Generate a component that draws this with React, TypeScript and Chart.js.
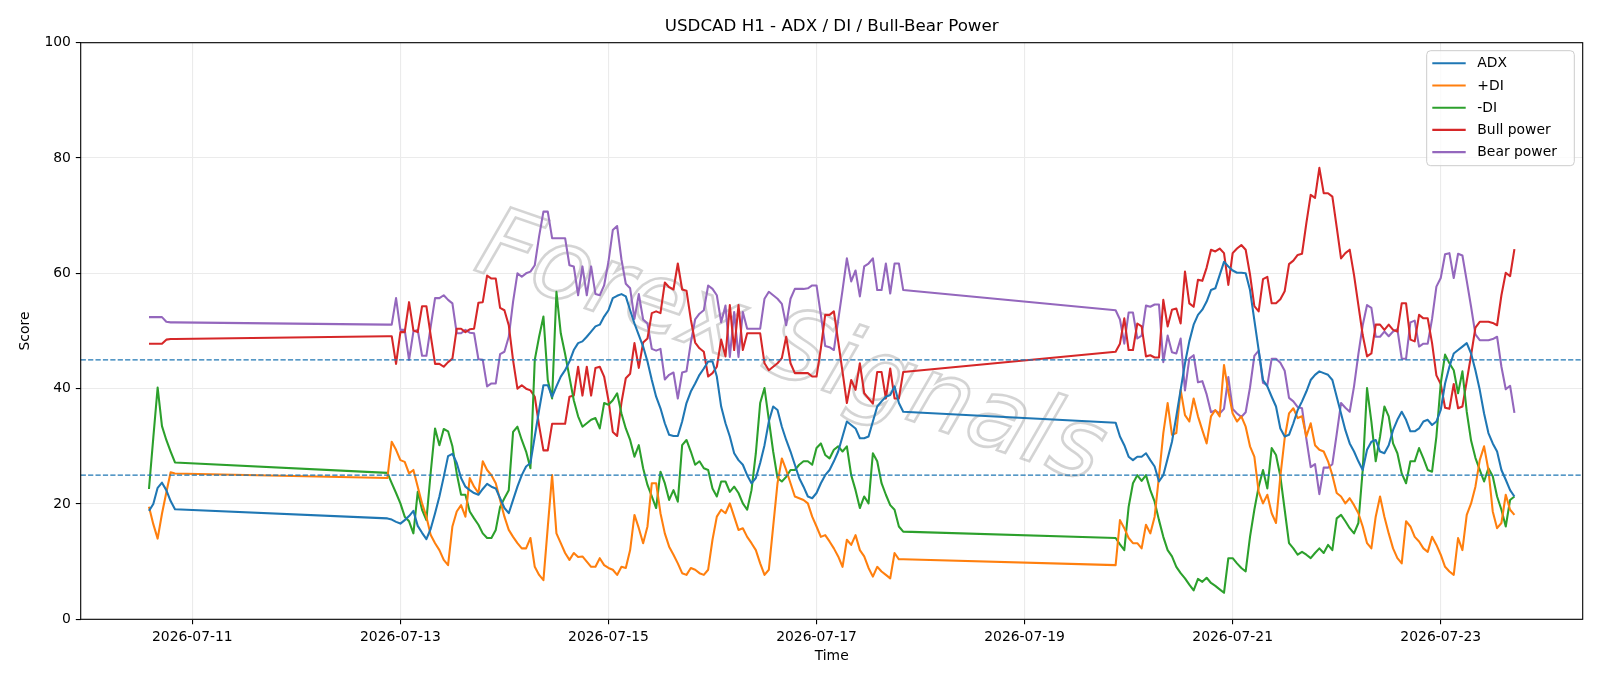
import React, { useEffect, useRef } from "react";
import { Chart, registerables } from "chart.js";

Chart.register(...registerables);

// Hours counted from 2026-07-10 00:00 (hourly bars, weekend gaps)
const SEGMENTS: [number, number][] = [
  [14, 20],
  [69, 188],
  [237, 329],
];
const HOURS: number[] = [];
for (const [a, b] of SEGMENTS) for (let h = a; h <= b; h++) HOURS.push(h);

const TICK_HOURS = [24, 72, 120, 168, 216, 264, 312];
const TICK_LABELS = ["2026-07-11", "2026-07-13", "2026-07-15", "2026-07-17", "2026-07-19", "2026-07-21", "2026-07-23"];
const Y_TICKS = [0, 20, 40, 60, 80, 100];
const THRESHOLDS = [45, 25];
const TITLE = "USDCAD H1 - ADX / DI / Bull-Bear Power";
const X_LABEL = "Time";
const Y_LABEL = "Score";
const WATERMARK = "Forex Signals";

const ADX = [
  18.8, 20.0, 22.8, 23.7, 22.4, 20.5, 19.1,
  17.5, 17.3, 16.9, 16.6, 17.2, 17.9, 18.8, 16.2, 15.0, 13.9, 15.7, 18.4, 21.3, 24.7, 28.3, 28.7, 27.1, 24.5, 23.0, 22.4, 21.9, 21.6, 22.6, 23.5,
  23.0, 22.7, 21.0, 19.3, 18.4, 20.7, 23.0, 25.0, 26.5, 27.1, 31.7, 36.3, 40.6, 40.6, 38.6, 40.4, 42.1, 43.2, 44.7, 46.7, 47.9, 48.2, 49.0, 49.9,
  50.8, 51.1, 52.5, 53.6, 55.7, 56.1, 56.4, 56.0, 53.6, 51.3, 49.3, 47.3, 44.7, 41.5, 38.6, 36.6, 34.0, 32.0, 31.8, 31.8, 34.3, 37.5, 39.5, 40.9, 42.4,
  43.5, 44.7, 44.7, 42.1, 36.9, 34.0, 31.7, 28.8, 27.6, 26.8, 25.0, 23.6, 24.5, 27.1, 30.2, 34.3, 36.9, 36.3, 33.4, 31.1, 29.1, 26.8, 24.5, 23.0,
  21.3, 21.0, 21.9, 23.6, 25.0, 25.9, 27.4, 29.1, 31.7, 34.3, 33.7, 33.1, 31.4, 31.4, 31.7, 34.3, 36.9, 37.8, 38.6, 38.9, 40.4, 37.5, 36.0,
  34.1, 31.7, 30.2, 28.2, 27.6, 28.2, 28.2, 28.8, 27.6, 26.5, 23.9, 25.0, 27.9, 30.8, 35.2, 39.8, 44.4, 48.2, 51.1, 52.8, 53.7, 55.1, 57.1,
  57.4, 59.7, 62.0, 61.2, 60.5, 60.1, 60.1, 60.0, 57.1, 51.9, 46.7, 41.5, 40.4, 38.6, 36.9, 33.1, 31.7, 32.0, 34.0, 36.3, 37.8, 39.5, 41.5, 42.4, 43.0,
  42.7, 42.4, 41.5, 38.6, 35.7, 32.8, 30.5, 29.1, 27.4, 25.9, 29.4, 30.8, 31.1, 29.1, 28.8, 30.2, 32.8, 34.6, 36.0, 34.6, 32.6, 32.6, 33.1, 34.3, 34.6, 33.7,
  34.3, 36.3, 40.9, 43.8, 46.1, 46.7, 47.3, 47.9, 46.1, 43.2, 39.8, 35.7, 32.3, 30.5, 29.1, 25.9, 24.2, 22.4, 21.3,
];

const PLUS_DI = [
  19.5, 16.5, 14.0, 18.3, 22.0, 25.5, 25.3,
  24.5, 30.8, 29.4, 27.6, 27.3, 25.3, 25.9, 23.0, 20.1, 17.8, 14.6, 13.2, 12.0, 10.3, 9.4, 16.1, 18.7, 19.8, 17.8, 24.5, 23.0, 21.9, 27.4, 25.9,
  25.0, 23.6, 20.7, 17.8, 15.5, 14.3, 13.2, 12.3, 12.3, 14.1, 9.1, 7.7, 6.8, 16.0, 25.0, 14.9, 13.2, 11.5, 10.3, 11.5, 10.8, 10.9, 10.0, 9.1,
  9.1, 10.6, 9.4, 8.9, 8.6, 7.7, 9.1, 8.9, 12.0, 18.1, 15.8, 13.2, 16.1, 23.6, 23.6, 18.4, 14.9, 12.6, 11.2, 9.7, 8.0, 7.7, 8.9, 8.6, 8.0,
  7.7, 8.6, 13.8, 17.8, 19.0, 18.4, 20.1, 17.8, 15.5, 15.8, 14.3, 13.2, 12.0, 9.7, 7.7, 8.6, 16.1, 23.6, 27.9, 25.9, 23.6, 21.3, 21.0, 20.7,
  20.1, 17.8, 16.1, 14.3, 14.6, 13.5, 12.3, 10.9, 9.1, 13.8, 12.9, 14.6, 12.0, 10.9, 8.9, 7.4, 9.1, 8.3, 7.7, 7.1, 11.5, 10.4, 10.4,
  9.4, 17.2, 15.8, 14.1, 13.2, 13.2, 12.3, 16.4, 14.9, 17.8, 24.8, 32.3, 37.5, 32.0, 32.3, 39.8, 35.4, 34.3, 38.3, 35.2, 32.8, 30.5, 35.2,
  36.3, 35.2, 44.1, 39.5, 35.7, 34.3, 35.2, 33.4, 30.0, 28.2, 22.1, 20.1, 21.6, 18.4, 16.7, 24.8, 31.4, 35.7, 36.6, 34.9, 35.2, 31.7, 34.0, 30.2, 29.4,
  29.1, 27.4, 25.0, 21.9, 21.3, 20.1, 21.0, 19.8, 18.4, 16.1, 13.2, 12.3, 17.8, 21.3, 17.8, 14.9, 12.3, 10.6, 9.7, 17.0, 16.1, 14.3, 13.5, 12.3, 11.7, 14.3,
  12.9, 11.2, 9.1, 8.3, 7.7, 14.1, 12.0, 18.1, 20.1, 23.0, 27.6, 30.0, 25.9, 18.7, 15.8, 16.7, 21.6, 19.0, 18.1,
];

const MINUS_DI = [
  22.6, 31.5, 40.2, 33.5, 31.1, 29.1, 27.2,
  25.4, 23.6, 21.9, 20.1, 17.8, 17.0, 14.9, 22.1, 19.0, 17.2, 25.5, 33.1, 30.2, 33.0, 32.6, 30.0, 25.3, 21.6, 21.6, 18.7, 17.5, 16.4, 14.9, 14.1,
  14.1, 15.5, 19.5, 21.0, 22.4, 32.5, 33.4, 31.1, 29.1, 26.2, 45.0, 49.0, 52.5, 41.5, 38.3, 56.8, 49.6, 46.0, 42.0, 38.0, 35.2, 33.4, 34.0, 34.6,
  34.9, 33.1, 37.5, 37.2, 38.0, 39.2, 35.7, 33.1, 31.1, 28.2, 30.2, 26.2, 23.3, 21.3, 19.3, 25.6, 23.6, 20.7, 22.4, 20.4, 30.2, 31.1, 29.1, 26.8, 27.4,
  26.2, 25.9, 22.7, 21.3, 23.9, 23.9, 22.1, 23.0, 21.9, 20.1, 19.0, 22.4, 28.8, 37.5, 40.1, 34.6, 29.1, 24.5, 23.9, 24.7, 25.9, 25.9, 26.8, 27.4,
  27.4, 26.8, 29.7, 30.5, 28.5, 27.9, 29.4, 30.0, 29.1, 30.0, 25.0, 22.4, 19.3, 21.3, 20.1, 28.8, 27.4, 23.6, 21.6, 19.8, 19.0, 16.1, 15.2,
  14.1, 13.0, 12.0, 19.5, 23.6, 25.0, 24.0, 25.0, 22.4, 20.4, 17.2, 14.3, 12.0, 10.9, 9.1, 8.0, 7.1, 6.0, 5.0, 7.0, 6.5, 7.2, 6.3,
  5.8, 5.2, 4.6, 10.6, 10.6, 9.7, 8.9, 8.3, 14.3, 19.0, 23.0, 25.9, 22.7, 29.7, 28.5, 24.8, 19.0, 13.2, 12.3, 11.2, 11.7, 11.2, 10.6, 11.5, 12.3,
  11.5, 12.9, 12.0, 17.5, 18.1, 17.0, 15.8, 14.9, 16.7, 25.9, 40.1, 34.3, 27.4, 31.7, 36.9, 35.2, 30.5, 28.8, 25.3, 23.6, 27.4, 27.4, 29.7, 27.9, 25.9, 25.6,
  31.7, 40.9, 45.9, 44.4, 43.2, 39.2, 43.0, 36.0, 31.0, 28.0, 25.9, 23.9, 26.2, 24.8, 21.3, 19.0, 16.1, 20.7, 21.3,
];

const BULL = [
  47.8, 47.8, 47.8, 47.8, 48.5, 48.6, 48.6,
  49.1, 49.1, 44.3, 49.8, 49.8, 55.0, 50.1, 49.8, 54.3, 54.3, 49.2, 44.3, 44.3, 43.8, 44.6, 45.2, 50.4, 50.4, 49.8, 50.3, 50.4, 54.9, 55.0, 59.6,
  59.1, 59.1, 54.0, 53.6, 51.0, 44.9, 40.0, 40.6, 40.0, 39.7, 38.6, 33.6, 29.3, 29.3, 33.9, 33.9, 33.9, 33.9, 38.6, 38.8, 43.8, 38.8, 43.8, 38.8,
  43.6, 43.8, 42.1, 38.0, 32.5, 31.8, 37.6, 41.8, 42.6, 47.9, 43.6, 48.0, 48.7, 53.1, 53.4, 53.1, 58.4, 57.6, 57.2, 61.7, 57.2, 57.0, 52.0, 48.0, 47.0,
  46.4, 42.1, 42.7, 43.8, 48.5, 45.6, 54.5, 46.7, 54.5, 46.7, 49.6, 49.6, 49.6, 49.6, 44.4, 43.2, 43.8, 44.4, 45.3, 49.0, 44.4, 42.7, 42.7, 42.7,
  42.7, 42.1, 42.1, 47.0, 52.8, 52.8, 53.4, 48.2, 42.9, 37.5, 41.5, 39.8, 44.4, 39.2, 38.3, 37.4, 42.9, 42.9, 38.3, 43.5, 38.3, 38.3, 42.9,
  46.4, 47.8, 52.2, 46.7, 46.7, 51.3, 50.8, 45.6, 45.8, 45.4, 45.4, 55.4, 50.8, 53.7, 53.9, 51.3, 60.3, 54.8, 54.2, 58.9, 58.7, 61.0, 64.1,
  63.8, 64.3, 63.5, 58.0, 63.5, 64.3, 64.9, 64.1, 59.8, 54.3, 53.4, 59.0, 59.4, 54.8, 54.8, 55.5, 56.9, 61.6, 62.2, 63.2, 63.4, 68.7, 73.6, 73.1, 78.3,
  73.9, 73.9, 73.3, 68.0, 62.6, 63.5, 64.1, 59.7, 54.5, 49.3, 45.6, 46.1, 51.1, 51.1, 50.2, 51.1, 50.2, 49.9, 54.8, 54.8, 48.5, 48.2, 52.8, 52.2, 52.2, 47.9,
  42.3, 40.8, 36.7, 36.5, 40.8, 36.6, 36.9, 41.3, 45.8, 50.6, 51.6, 51.6, 51.6, 51.4, 51.0, 56.2, 60.1, 59.5, 64.2,
];

const BEAR = [
  52.4, 52.4, 52.4, 52.4, 51.6, 51.5, 51.5,
  51.1, 51.1, 55.7, 50.2, 50.2, 45.0, 49.9, 50.2, 45.7, 45.7, 50.8, 55.7, 55.7, 56.2, 55.4, 54.8, 49.6, 49.6, 50.2, 49.7, 49.6, 45.1, 45.0, 40.4,
  40.9, 40.9, 46.0, 46.4, 49.0, 55.1, 60.0, 59.4, 60.0, 60.3, 61.4, 66.4, 70.7, 70.7, 66.1, 66.1, 66.1, 66.1, 61.4, 61.2, 56.2, 61.2, 56.2, 61.2,
  56.4, 56.2, 57.9, 62.0, 67.5, 68.2, 62.4, 58.2, 57.4, 52.1, 56.4, 52.0, 51.3, 46.9, 46.6, 46.9, 41.6, 42.4, 42.8, 38.3, 42.8, 43.0, 48.0, 52.0, 53.0,
  53.6, 57.9, 57.3, 56.2, 51.5, 54.4, 45.5, 53.3, 45.5, 53.3, 50.4, 50.4, 50.4, 50.4, 55.6, 56.8, 56.2, 55.6, 54.7, 51.0, 55.6, 57.3, 57.3, 57.3,
  57.4, 57.9, 57.9, 52.8, 47.4, 47.2, 46.7, 51.9, 57.1, 62.6, 58.6, 60.5, 56.0, 61.2, 61.7, 62.6, 57.1, 57.1, 61.7, 56.5, 61.7, 61.7, 57.1,
  53.6, 52.0, 47.8, 53.2, 53.2, 48.7, 49.2, 54.4, 54.2, 54.6, 54.6, 44.6, 49.2, 46.3, 46.1, 48.7, 39.7, 45.2, 45.8, 41.1, 41.3, 39.0, 35.9,
  36.2, 35.7, 36.5, 42.0, 36.5, 35.7, 35.1, 35.9, 40.2, 45.7, 46.6, 41.0, 40.6, 45.2, 45.2, 44.5, 43.1, 38.4, 37.8, 36.8, 36.6, 31.3, 26.4, 26.9, 21.7,
  26.3, 26.3, 26.9, 32.1, 37.5, 36.7, 36.0, 40.4, 46.0, 51.0, 54.5, 54.0, 49.0, 49.0, 49.9, 49.1, 49.9, 50.3, 45.2, 45.2, 51.5, 51.8, 47.3, 47.8, 47.8, 52.1,
  57.7, 59.2, 63.3, 63.5, 59.2, 63.4, 63.1, 58.7, 54.2, 49.4, 48.4, 48.4, 48.4, 48.6, 49.0, 43.8, 39.9, 40.5, 35.8,
];

const SERIES = [
  { label: "ADX", values: ADX, color: "#1f77b4" },
  { label: "+DI", values: PLUS_DI, color: "#ff7f0e" },
  { label: "-DI", values: MINUS_DI, color: "#2ca02c" },
  { label: "Bull power", values: BULL, color: "#d62728" },
  { label: "Bear power", values: BEAR, color: "#9467bd" },
];

const FONT = "DejaVu Sans";
const W = 1600;
const H = 686;

const decorPlugin = {
  id: "decor",
  beforeDatasetsDraw(chart: any) {
    const { ctx, chartArea } = chart;
    ctx.save();
    ctx.beginPath();
    ctx.rect(chartArea.left, chartArea.top, chartArea.right - chartArea.left, chartArea.bottom - chartArea.top);
    ctx.clip();
    ctx.translate(790, 352);
    ctx.rotate((19 * Math.PI) / 180);
    ctx.font = `italic 96px ${FONT}`;
    const w = ctx.measureText(WATERMARK).width;
    const s = 655 / w;
    ctx.scale(s, s);
    ctx.textAlign = "center";
    ctx.textBaseline = "middle";
    ctx.strokeStyle = "rgba(170,170,170,0.5)";
    ctx.lineWidth = 2.6 / s;
    ctx.strokeText(WATERMARK, 0, 0);
    ctx.restore();
  },
  afterDatasetsDraw(chart: any) {
    const { ctx, chartArea, scales } = chart;
    ctx.save();
    ctx.strokeStyle = "#1f77b4";
    ctx.lineWidth = 1.4;
    ctx.setLineDash([5.2, 2.2]);
    for (const t of THRESHOLDS) {
      const y = scales.y.getPixelForValue(t);
      ctx.beginPath();
      ctx.moveTo(chartArea.left, y);
      ctx.lineTo(chartArea.right, y);
      ctx.stroke();
    }
    ctx.restore();
  },
  afterDraw(chart: any) {
    const { ctx, chartArea } = chart;
    ctx.save();
    // frame
    ctx.strokeStyle = "#000";
    ctx.lineWidth = 1.1;
    ctx.strokeRect(chartArea.left, chartArea.top, chartArea.right - chartArea.left, chartArea.bottom - chartArea.top);
    // title
    ctx.fillStyle = "#000";
    ctx.font = `16.7px ${FONT}`;
    ctx.textAlign = "center";
    ctx.textBaseline = "alphabetic";
    ctx.fillText(TITLE, (chartArea.left + chartArea.right) / 2, 31);
    // axis labels
    ctx.font = `13.9px ${FONT}`;
    ctx.textBaseline = "middle";
    ctx.fillText(X_LABEL, (chartArea.left + chartArea.right) / 2, 656);
    ctx.save();
    ctx.translate(25.5, (chartArea.top + chartArea.bottom) / 2);
    ctx.rotate(-Math.PI / 2);
    ctx.fillText(Y_LABEL, 0, 0);
    ctx.restore();
    // legend
    const bx = 1426.7, by = 50.7, bw = 147.6, bh = 115;
    ctx.beginPath();
    const r = 4;
    ctx.moveTo(bx + r, by);
    ctx.arcTo(bx + bw, by, bx + bw, by + bh, r);
    ctx.arcTo(bx + bw, by + bh, bx, by + bh, r);
    ctx.arcTo(bx, by + bh, bx, by, r);
    ctx.arcTo(bx, by, bx + bw, by, r);
    ctx.closePath();
    ctx.fillStyle = "rgba(255,255,255,0.8)";
    ctx.fill();
    ctx.strokeStyle = "#cccccc";
    ctx.lineWidth = 1;
    ctx.stroke();
    chart.data.datasets.forEach((ds: any, i: number) => {
      const y = 63.3 + i * 22.2;
      ctx.strokeStyle = ds.borderColor;
      ctx.lineWidth = 2.08;
      ctx.beginPath();
      ctx.moveTo(1432.3, y);
      ctx.lineTo(1465.7, y);
      ctx.stroke();
      ctx.fillStyle = "#000";
      ctx.textAlign = "left";
      ctx.textBaseline = "middle";
      ctx.font = `13.9px ${FONT}`;
      ctx.fillText(ds.label, 1477.3, y + 0.5);
    });
    ctx.restore();
  },
};

export default function App() {
  const ref = useRef<HTMLCanvasElement | null>(null);
  useEffect(() => {
    if (!ref.current) return;
    const chart = new Chart(ref.current, {
      type: "line",
      data: {
        datasets: SERIES.map((s) => ({
          label: s.label,
          data: HOURS.map((h, i) => ({ x: h, y: s.values[i] })),
          borderColor: s.color,
          backgroundColor: s.color,
          borderWidth: 2.08,
          pointRadius: 0,
          tension: 0,
          fill: false,
          borderJoinStyle: "round" as const,
        })),
      },
      options: {
        animation: false,
        responsive: false,
        devicePixelRatio: 1,
        events: [],
        layout: { padding: { left: 0, right: 17.3, top: 42.7, bottom: 0 } },
        plugins: {
          legend: { display: false },
          title: { display: false },
          tooltip: { enabled: false },
        },
        scales: {
          x: {
            type: "linear",
            min: -1.75,
            max: 344.75,
            afterBuildTicks: (scale: any) => {
              scale.ticks = TICK_HOURS.map((v) => ({ value: v }));
            },
            afterFit: (scale: any) => {
              scale.height = 66.7;
            },
            ticks: {
              autoSkip: false,
              maxRotation: 0,
              padding: 4.9,
              color: "#000",
              font: { family: FONT, size: 13.9 },
              callback: (_v: any, i: number) => TICK_LABELS[i],
            },
            grid: { color: "#ebebeb", lineWidth: 1.1, tickLength: 4.9, tickColor: "#000", tickWidth: 1.1 },
            border: { display: false },
          },
          y: {
            type: "linear",
            min: 0,
            max: 100,
            afterBuildTicks: (scale: any) => {
              scale.ticks = Y_TICKS.map((v) => ({ value: v }));
            },
            afterFit: (scale: any) => {
              scale.width = 80.7;
            },
            ticks: {
              padding: 4.9,
              color: "#000",
              font: { family: FONT, size: 13.9 },
            },
            grid: { color: "#ebebeb", lineWidth: 1.1, tickLength: 4.9, tickColor: "#000", tickWidth: 1.1 },
            border: { display: false },
          },
        },
      } as any,
      plugins: [decorPlugin],
    });
    return () => chart.destroy();
  }, []);
  return (
    <div style={{ position: "fixed", left: 0, top: 0, width: W, height: H, background: "#fff" }}>
      <canvas ref={ref} width={W} height={H} style={{ display: "block", width: W, height: H }} />
    </div>
  );
}
